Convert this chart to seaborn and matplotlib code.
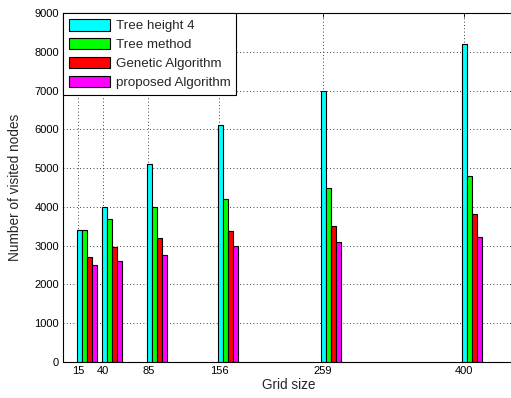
import numpy as np
import pandas as pd
import matplotlib
matplotlib.use("Agg")
import matplotlib.pyplot as plt
import seaborn as sns

# 데이터
grid_size = [15, 40, 85, 156, 259, 400]
tree_height4 = [3400, 4000, 5100, 6100, 7000, 8200]
tree_method = [3400, 3700, 4000, 4200, 4500, 4800]
genetic = [2700, 2970, 3200, 3370, 3500, 3820]
proposed = [2500, 2600, 2770, 3000, 3100, 3220]

series_names = ["Tree height 4", "Tree method", "Genetic Algorithm", "proposed Algorithm"]
series_colors = ["#00FFFF", "#00FF00", "#FF0000", "#FF00FF"]

rows = []
for name, vals in zip(series_names, [tree_height4, tree_method, genetic, proposed]):
    for g, v in zip(grid_size, vals):
        rows.append({"grid": g, "series": name, "value": v})
df = pd.DataFrame(rows)
# MATLAB 스타일: 묶음 막대가 눈금 오른쪽으로 치우쳐 있음
df["pos"] = df["grid"] + 8.5

sns.set_style("white")
plt.rcParams["font.family"] = ["Liberation Sans", "DejaVu Sans"]
plt.rcParams["font.size"] = 8

fig = plt.figure(figsize=(5.11, 3.98), dpi=100)
ax = fig.add_axes([63 / 511, 1 - 362 / 398, (514 - 63) / 511, (362 - 13) / 398])

sns.barplot(data=df, x="pos", y="value", hue="series", hue_order=series_names,
            palette=series_colors, native_scale=True, saturation=1,
            edgecolor="black", linewidth=0.8, ax=ax, errorbar=None)

ax.set_xlim(0, 450)
ax.set_ylim(0, 9000)
ax.set_xticks(grid_size)
ax.set_xticklabels([str(g) for g in grid_size])
ax.set_yticks(range(0, 9001, 1000))
ax.set_xlabel("Grid size", fontsize=9.8, labelpad=1)
ax.set_ylabel("Number of visited nodes", fontsize=9.8, labelpad=9)

ax.set_axisbelow(True)
ax.grid(True, color="black", linestyle=(0, (1, 3)), linewidth=0.6)
for s in ax.spines.values():
    s.set_color("black")
    s.set_linewidth(0.8)
ax.tick_params(direction="in", length=3, width=0.6, top=True, right=True,
               labelsize=8, colors="black", pad=3)

leg = ax.legend(loc="upper left", borderaxespad=0, frameon=True, fancybox=False,
                edgecolor="black", framealpha=1, handlelength=3.1, handleheight=0.95,
                labelspacing=0.42, handletextpad=0.4, borderpad=0.45, fontsize=9.6)
leg.get_frame().set_linewidth(0.8)
leg.set_title(None)

fig.savefig("out.png", dpi=100)
